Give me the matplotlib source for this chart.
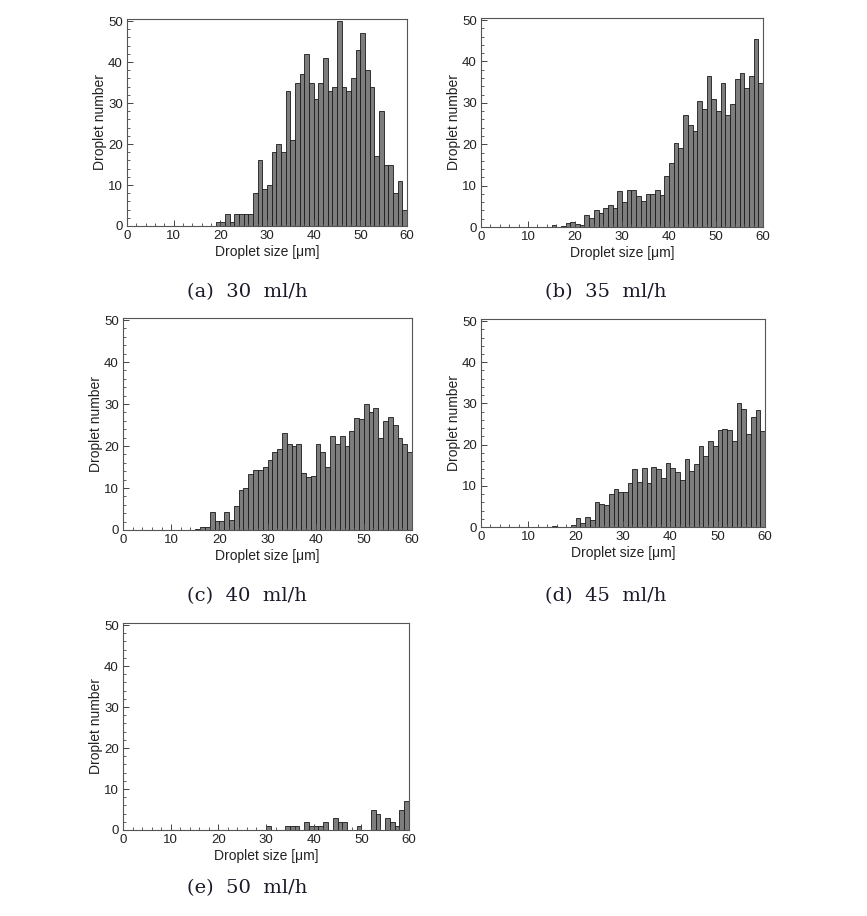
import matplotlib.pyplot as plt
from matplotlib.ticker import MultipleLocator
import numpy as np

# droplet size histograms, 1 um bins, value = count in [x, x+1)
start_a = 19
counts_a = [1, 1, 3, 1, 3, 3, 3, 3, 8, 16, 9, 10, 18, 20, 18,
            33, 21, 35, 37, 42, 35, 31, 35, 41, 33, 34, 50, 34, 33, 36,
            43, 47, 38, 34, 17, 28, 15, 15, 8, 11, 4]

start_b = 15
counts_b = [0.5, 0, 0.3, 1, 1.3, 0.7, 0.4,
            3, 2.2, 4, 3.4, 4.6, 5.4, 4.7, 8.7, 6, 9,
            9, 7.4, 6.4, 8, 8, 9, 7.8, 12.4, 15.4, 20.4,
            19, 27, 24.7, 23.3, 30.4, 28.6, 36.4, 31, 28, 34.7,
            27, 29.7, 35.7, 37.2, 33.6, 36.4, 45.4, 34.8]

start_c = 15
counts_c = [0.3, 0.8, 0.8,
            4.2, 2.1, 2.1, 4.2, 2.5, 5.7, 9.6, 10, 13.3, 14.3,
            14.2, 15, 16.6, 18.6, 19.2, 23, 20.6, 20, 20.4, 13.6,
            12.6, 12.8, 20.6, 18.6, 15, 22.4, 20.6, 22.4, 20, 23.6,
            26.6, 26.4, 30, 28, 29, 22, 26, 27, 25, 22,
            20.6, 18.6]

start_d = 15
counts_d = [0.3, 0, 0, 0, 0.4,
            2.3, 0.9, 2.5, 1.8, 6, 5.7, 5.3, 8, 9.3, 8.6,
            8.6, 10.6, 14, 11, 14.3, 10.6, 14.6, 14, 12, 15.6,
            14.3, 13.3, 11.3, 16.6, 13.6, 15.4, 19.7, 17.3, 21, 19.6,
            23.6, 23.9, 23.6, 21, 30, 28.6, 22.6, 26.6, 28.3, 23.3]

bins_e = [30, 34, 35, 36, 38, 39, 40, 41, 42, 44, 45, 46, 49,
          52, 53, 55, 56, 57, 58, 59]
counts_e = [1, 1, 1, 1, 2, 1, 1, 1, 2, 3, 2, 2, 1,
            5, 4, 3, 2, 1, 5, 7]

captions = ['(a)  30  ml/h', '(b)  35  ml/h', '(c)  40  ml/h',
            '(d)  45  ml/h', '(e)  50  ml/h']

W, H = 867, 916
fig = plt.figure(figsize=(W / 100, H / 100), dpi=100)


def px_axes(left, top, right, bottom):
    return fig.add_axes([left / W, 1 - bottom / H,
                         (right - left) / W, (bottom - top) / H])


boxes = [(127, 19, 407, 226), (481, 18, 763, 227), (123, 318, 412, 530),
         (481, 319, 765, 527), (123, 623, 409, 830)]
caption_pos = [(247, 292), (606, 292), (247, 596), (606, 596), (247, 888)]

series = [
    (np.arange(start_a, start_a + len(counts_a)), counts_a),
    (np.arange(start_b, start_b + len(counts_b)), counts_b),
    (np.arange(start_c, start_c + len(counts_c)), counts_c),
    (np.arange(start_d, start_d + len(counts_d)), counts_d),
    (np.array(bins_e), counts_e),
]

for box, (x, y), cap, cpos in zip(boxes, series, captions, caption_pos):
    ax = px_axes(*box)
    ax.bar(x, y, width=1.0, align='edge', color='#7d7d7d',
           edgecolor='#1a1a1a', linewidth=0.6)
    ax.set_xlim(0, 60)
    ax.set_ylim(0, 50.5)
    ax.xaxis.set_major_locator(MultipleLocator(10))
    ax.xaxis.set_minor_locator(MultipleLocator(2))
    ax.yaxis.set_major_locator(MultipleLocator(10))
    ax.yaxis.set_minor_locator(MultipleLocator(2))
    ax.tick_params(which='both', direction='in', top=False, right=False,
                   color='#444444', labelsize=9.5, labelcolor='#222222')
    ax.tick_params(which='major', length=4, width=0.7, pad=3)
    ax.tick_params(which='minor', length=2, width=0.6)
    for s in ax.spines.values():
        s.set_color('#555555')
        s.set_linewidth(0.8)
    ax.set_xlabel('Droplet size [\u03bcm]', fontsize=10, color='#222222',
                  labelpad=2, family='Liberation Sans')
    ax.set_ylabel('Droplet number', fontsize=10, color='#222222',
                  labelpad=1, family='Liberation Sans')
    for lab in ax.get_xticklabels() + ax.get_yticklabels():
        lab.set_family('Liberation Sans')
    fig.text(cpos[0] / W, 1 - cpos[1] / H, cap, ha='center', va='center',
             fontsize=14, family='DejaVu Serif', color='#1a1a2a')

plt.savefig('out.png', dpi=100)
